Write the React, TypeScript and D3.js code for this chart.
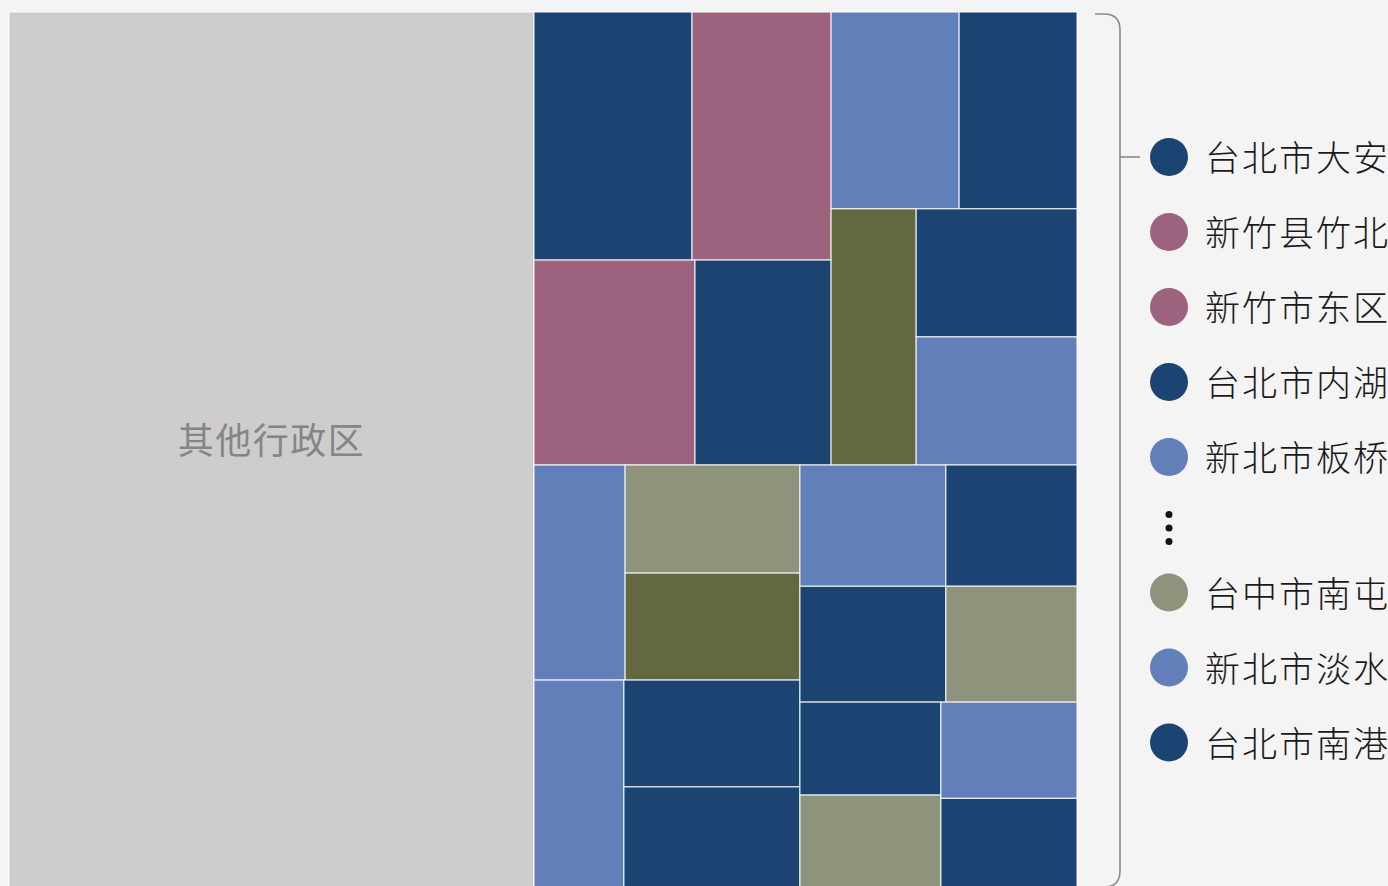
import React from 'react';
import * as d3 from 'd3';

// ---- data ----
const districts = [
  '其他行政区',
  '台北市大安区', '新竹县竹北市', '新竹市东区', '台北市内湖区', '新北市板桥区',
  '台北市信义区', '桃园市桃园区', '台北市中山区', '新北市中和区',
  '新北市新店区', '台中市西屯区', '桃园市中坜区', '新北市新庄区', '台北市士林区', '台北市松山区',
  '新北市三重区', '台北市文山区', '台北市北投区', '台中市北屯区',
  '台北市中正区', '台中市南屯区', '新北市淡水区', '台北市南港区',
];
const values = [
  4599,
  392, 345, 330, 279, 252,
  232, 218, 206, 206,
  196, 189, 187, 187, 188, 178,
  177, 169, 159, 152,
  131, 131, 131, 122,
];
const colorKeys = ['其他', '台北市', '新竹县', '新竹市', '新北市', '台中市', '桃园市'];
const colorValues = ['#cecccd', '#1c4473', '#9d637e', '#9d637e', '#637fb9', '#8e937b', '#636841'];
const legendFirst = [1, 2, 3, 4, 5];
const legendLast = [21, 22, 23];

const WIDTH = 1388;
const HEIGHT = 886;
const TM = { left: 9, right: 1077, top: 12, bottom: 888 };
const STRETCH = 1.1; // layout aspect used by the tiling

const color = d3.scaleOrdinal<string, string>().domain(colorKeys).range(colorValues);
const cityOf = (name: string) => (name.startsWith('其他') ? '其他' : name.slice(0, 3));

export default function App() {
  const lw = (TM.right - TM.left) * STRETCH;
  const lh = TM.bottom - TM.top;
  const root = d3
    .hierarchy<any>({ children: districts.map((name, i) => ({ name, value: values[i] })) })
    .sum((d: any) => d.value ?? 0);
  d3.treemap<any>().tile(d3.treemapBinary).size([lw, lh])(root);
  const x = d3.scaleLinear().domain([0, lw]).range([TM.left, TM.right]);
  const y = d3.scaleLinear().domain([0, lh]).range([TM.top, TM.bottom]);
  const leaves = root.leaves() as any[];

  const legendX = 1169;
  const legendY0 = 157;
  const step = 75;
  const ellY = legendY0 + legendFirst.length * step - 4;
  const lastY0 = legendY0 + legendFirst.length * step + 60.5;
  const rows = [
    ...legendFirst.map((idx, i) => ({ idx, cy: legendY0 + i * step })),
    ...legendLast.map((idx, i) => ({ idx, cy: lastY0 + i * step })),
  ];

  return (
    <div style={{ position: 'fixed', inset: 0, background: '#f4f4f4', overflow: 'hidden' }}>
      <svg width={WIDTH} height={HEIGHT} style={{ display: 'block' }}>
        <g>
          {leaves.map((l, i) => (
            <rect
              key={i}
              x={x(l.x0)}
              y={y(l.y0)}
              width={x(l.x1) - x(l.x0)}
              height={y(l.y1) - y(l.y0)}
              fill={color(cityOf(l.data.name))}
              stroke="#ffffff"
              strokeOpacity={0.8}
              strokeWidth={1.2}
            />
          ))}
          {leaves
            .filter((l) => cityOf(l.data.name) === '其他')
            .map((l, i) => (
              <text
                key={i}
                x={(x(l.x0) + x(l.x1)) / 2}
                y={(y(l.y0) + y(l.y1)) / 2 - 12}
                textAnchor="middle"
                dominantBaseline="central"
                fontFamily="'Noto Sans CJK SC', sans-serif"
                fontSize={36}
                letterSpacing={1.5}
                fill="#858585"
              >
                {l.data.name}
              </text>
            ))}
        </g>
        <g fill="none" stroke="#8a8a8a" strokeWidth={1.6}>
          <path d={`M1095,14 H1104 Q1120,14 1120,30 V871 Q1120,887 1104,887 H1095`} />
          <path d={`M1120,${legendY0} H1140`} />
        </g>
        <g>
          {rows.map((r, i) => (
            <g key={i}>
              <circle cx={legendX} cy={r.cy} r={19} fill={color(cityOf(districts[r.idx]))} />
              <text
                x={1205}
                y={r.cy - 1.5}
                dominantBaseline="central"
                fontFamily="'Noto Sans CJK SC', sans-serif"
                fontSize={35}
                fontWeight={300}
                letterSpacing={2}
                fill="#1a1a1a"
              >
                {districts[r.idx]}
              </text>
            </g>
          ))}
          {[-13.5, 0, 13.5].map((d, i) => (
            <circle key={i} cx={legendX} cy={ellY + d} r={3.5} fill="#111" />
          ))}
        </g>
      </svg>
    </div>
  );
}
